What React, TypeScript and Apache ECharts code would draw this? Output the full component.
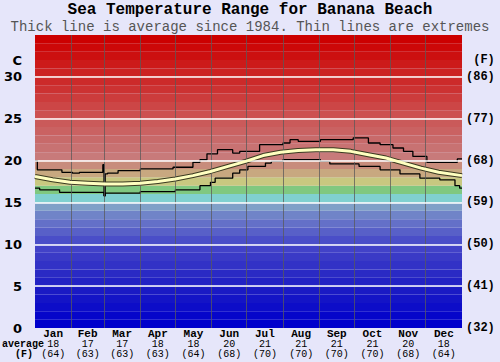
import React, { useEffect, useRef } from 'react';
import * as echarts from 'echarts';

const monthNames = ['Jan', 'Feb', 'Mar', 'Apr', 'May', 'Jun', 'Jul', 'Aug', 'Sep', 'Oct', 'Nov', 'Dec'];
const monthStartDays = [0, 31, 59, 90, 120, 151, 181, 212, 243, 273, 304, 334, 365];
const monthAvgC = [18, 17, 17, 18, 18, 20, 21, 21, 21, 21, 20, 18];
const monthAvgF = [64, 63, 63, 63, 64, 68, 70, 70, 70, 70, 68, 64];
const celsiusTicks = [0, 5, 10, 15, 20, 25, 30];

// Upper extreme (step breakpoints: day of year, °C)
const maxDays = [0, 2, 23, 32, 38, 47, 58, 59, 60, 62, 71, 90, 118, 135, 141, 147, 156, 169, 175, 192, 212, 218, 225, 244, 272, 285, 295, 306, 315, 323, 335, 361, 365];
const maxTemps = [20.0, 18.9, 18.6, 18.5, 18.6, 18.6, 19.5, 15.8, 18.4, 18.5, 18.8, 19.0, 19.2, 19.8, 20.1, 20.8, 21.3, 20.9, 21.1, 21.9, 22.1, 22.5, 22.3, 22.5, 22.7, 22.1, 21.9, 21.5, 21.1, 20.5, 19.8, 20.2, 20.2];

// Lower extreme
const minDays = [0, 4, 21, 58, 59, 60, 90, 120, 141, 150, 154, 169, 175, 182, 197, 202, 212, 244, 252, 277, 295, 312, 329, 346, 359, 363, 365];
const minTemps = [16.7, 16.5, 16.2, 16.2, 15.8, 16.1, 16.3, 16.5, 17.0, 17.4, 17.9, 18.5, 18.9, 19.3, 19.7, 19.9, 20.1, 19.9, 19.6, 19.3, 18.9, 18.4, 17.9, 17.7, 17.0, 16.7, 16.7];

// Average since 1984
const avgDays = [0, 15, 30, 45, 60, 75, 90, 105, 120, 135, 150, 165, 180, 195, 210, 225, 240, 255, 270, 285, 300, 315, 330, 345, 365];
const avgTemps = [18.1, 17.7, 17.4, 17.3, 17.2, 17.2, 17.3, 17.5, 17.8, 18.2, 18.7, 19.3, 19.9, 20.6, 21.0, 21.2, 21.3, 21.3, 21.1, 20.7, 20.3, 19.7, 19.1, 18.6, 18.2];

const bandColors = [
  '#0000cc', '#0606ca', '#0d0dc8', '#1414c6', '#1a1ac4', '#2222c4', '#2a2ac4', '#3232c6', '#3a3ac6', '#4242c8',
  '#4a4ec8', '#5860c8', '#6470c8', '#7084c8', '#80a0c8', '#80d0d0', '#80c880', '#c8c880', '#c8a880', '#c88c7c',
  '#c87a7a', '#c87272', '#c86a6a', '#ca6262', '#ca5a5a', '#cc5050', '#cc4646', '#cc3c3c', '#cc3232', '#cc2a2a',
  '#cc2222', '#cc1a1a', '#cc1010', '#cc0808', '#cc0000',
];

const zip = (xs: number[], ys: number[]) => xs.map((x, i) => [x, ys[i]]);
const monthMids = monthStartDays.slice(0, 12).map((d, i) => (d + monthStartDays[i + 1]) / 2);
const mono = 'Liberation Mono, Courier New, monospace';

export default function App() {
  const ref = useRef<HTMLDivElement>(null);
  useEffect(() => {
    if (!ref.current) return;
    const chart = echarts.init(ref.current, null, { renderer: 'svg' });
    const bands = bandColors.map((c, i) => [
      { yAxis: i, itemStyle: { color: c } },
      { yAxis: i + 1 },
    ]);
    chart.setOption({
      animation: false,
      backgroundColor: '#e6e6fa',
      title: [
        {
          text: 'Sea Temperature Range for Banana Beach',
          left: 'center',
          top: 2,
          padding: 0,
          textStyle: { fontFamily: mono, fontSize: 16, fontWeight: 'bold', color: '#000', lineHeight: 16 },
        },
        {
          text: 'Thick line is average since 1984. Thin lines are extremes',
          left: 'center',
          top: 20,
          padding: 0,
          textStyle: { fontFamily: mono, fontSize: 14, fontWeight: 'normal', color: '#555', lineHeight: 14 },
        },
      ],
      grid: { left: 35, right: 38, top: 35, bottom: 34 },
      xAxis: {
        type: 'value',
        min: 0,
        max: 365,
        axisLine: { show: false },
        axisTick: { show: false },
        splitLine: { show: false },
        axisLabel: {
          customValues: monthMids,
          margin: 0,
          interval: 0,
          formatter: (v: number) => {
            let idx = 0;
            let best = Infinity;
            monthMids.forEach((m, i) => {
              if (Math.abs(m - v) < best) { best = Math.abs(m - v); idx = i; }
            });
            return `{m|${monthNames[idx]}}\n{v|${monthAvgC[idx]}}\n{v|(${monthAvgF[idx]})}`;
          },
          rich: {
            m: { fontFamily: mono, fontSize: 11, fontWeight: 'bold', color: '#000', lineHeight: 11 },
            v: { fontFamily: mono, fontSize: 10, color: '#000', lineHeight: 10 },
          },
        },
      },
      yAxis: [
        {
          type: 'value',
          min: 0,
          max: 35,
          interval: 5,
          position: 'left',
          axisLine: { show: false },
          axisTick: { show: false },
          splitLine: { show: false },
          axisLabel: {
            customValues: [...celsiusTicks, 32],
            margin: 13,
            fontFamily: 'DejaVu Sans',
            fontSize: 13,
            fontWeight: 'bold',
            color: '#000',
            formatter: (v: number) => (v === 32 ? 'C' : String(v)),
          },
        },
        {
          type: 'value',
          min: 0,
          max: 35,
          interval: 5,
          position: 'right',
          axisLine: { show: false },
          axisTick: { show: false },
          splitLine: { show: false },
          axisLabel: {
            customValues: [...celsiusTicks, 32],
            margin: 4,
            fontFamily: mono,
            fontSize: 12,
            fontWeight: 'bold',
            color: '#000',
            formatter: (v: number) => (v === 32 ? ' (F)' : `(${Math.round((v * 9) / 5 + 32)})`),
          },
        },
      ],
      graphic: [
        { type: 'text', left: 2, top: 339, style: { text: 'average', font: `bold 10px ${mono}`, fill: '#000' } },
        { type: 'text', left: 15, top: 349, style: { text: '(F)', font: `bold 10px ${mono}`, fill: '#000' } },
      ],
      series: [
        {
          type: 'line',
          z: 1,
          data: zip(avgDays, avgTemps),
          showSymbol: false,
          silent: true,
          lineStyle: { opacity: 0 },
          markArea: { silent: true, data: bands },
        },
        {
          type: 'line',
          z: 2,
          data: zip(avgDays, avgTemps),
          showSymbol: false,
          silent: true,
          lineStyle: { opacity: 0 },
          markLine: {
            silent: true,
            symbol: ['none', 'none'],
            label: { show: false },
            data: [
              ...monthStartDays.slice(1, 12).map((d) => ({
                xAxis: d,
                lineStyle: { color: 'rgba(90,90,90,0.75)', width: 1, type: 'solid' },
              })),
              ...celsiusTicks.slice(1).map((t) => ({
                yAxis: t,
                lineStyle: { color: '#ffffff', width: 1.5, type: 'solid' },
              })),
            ],
          },
        },
        {
          name: 'max',
          type: 'line',
          z: 3,
          step: 'end',
          data: zip(maxDays, maxTemps),
          showSymbol: false,
          lineStyle: { color: '#000', width: 1.3 },
        },
        {
          name: 'min',
          type: 'line',
          z: 3,
          step: 'end',
          data: zip(minDays, minTemps),
          showSymbol: false,
          lineStyle: { color: '#000', width: 1.3 },
        },
        {
          name: 'avgOutline',
          type: 'line',
          z: 4,
          data: zip(avgDays, avgTemps),
          showSymbol: false,
          lineStyle: { color: '#3a3a20', width: 5 },
        },
        {
          name: 'avg',
          type: 'line',
          z: 5,
          data: zip(avgDays, avgTemps),
          showSymbol: false,
          lineStyle: { color: '#ffffc0', width: 3 },
        },
      ],
    });
    return () => chart.dispose();
  }, []);
  return <div ref={ref} style={{ width: 500, height: 362, position: 'absolute', left: 0, top: 0 }} />;
}
